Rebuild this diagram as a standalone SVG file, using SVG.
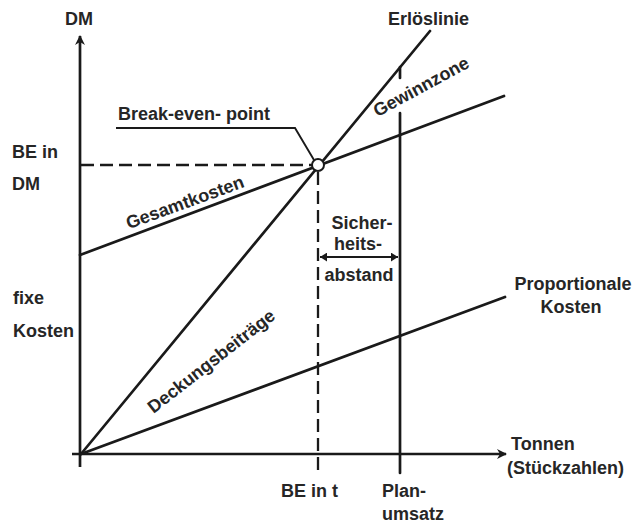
<svg xmlns="http://www.w3.org/2000/svg" width="635" height="523" viewBox="0 0 635 523">
<style>
text{font-family:"Liberation Sans",Arial,sans-serif;font-weight:bold;font-size:18px;fill:#262626}
.ln{stroke:#1a1a1a;stroke-width:2.7;fill:none;stroke-linecap:round}
.ax{stroke:#1a1a1a;stroke-width:2.7;fill:none}
.dash{stroke:#1a1a1a;stroke-width:2.3;fill:none;stroke-dasharray:13 6}
.thin{stroke:#1a1a1a;stroke-width:1.9;fill:none}
</style>
<defs>
<marker id="ah" viewBox="0 0 10 10" refX="9" refY="5" markerWidth="10" markerHeight="10" markerUnits="userSpaceOnUse" orient="auto-start-reverse">
<path d="M0,0 L10,5 L0,10 L3,5 Z" fill="#1a1a1a"/>
</marker>
<marker id="sm" viewBox="0 0 8 10" refX="8" refY="5" markerWidth="7" markerHeight="9" markerUnits="userSpaceOnUse" orient="auto-start-reverse">
<path d="M0,0 L8,5 L0,10 Z" fill="#1a1a1a"/>
</marker>
</defs>
<rect width="635" height="523" fill="#fff"/>
<g id="axes">
<line class="ax" x1="80" y1="467" x2="80" y2="36" marker-end="url(#ah)"/>
<line class="ax" x1="72" y1="454" x2="506" y2="454" marker-end="url(#ah)"/>
<text x="65" y="25">DM</text>
<text x="511" y="450">Tonnen</text>
<text x="507" y="474">(Stückzahlen)</text>
</g>
<g id="connectors">
<line class="ln" x1="81" y1="454" x2="430" y2="31"/>
<line class="ln" x1="80" y1="255" x2="504" y2="96"/>
<line class="ln" x1="81" y1="454" x2="505" y2="297"/>
<line class="dash" x1="81" y1="165" x2="312" y2="165"/>
<line class="dash" x1="318" y1="172" x2="318" y2="476"/>
<line class="ln" x1="400" y1="67" x2="400" y2="78"/>
<line class="ln" x1="400" y1="113" x2="400" y2="473"/>
<polyline class="thin" points="116,128 295,128 314,160"/>
<line class="thin" x1="320" y1="257" x2="398" y2="257" marker-start="url(#sm)" marker-end="url(#sm)"/>
</g>
<g id="break-even">
<circle cx="318" cy="165" r="6" fill="#fff" stroke="#1a1a1a" stroke-width="2"/>
<text x="118" y="120">Break-even- point</text>
</g>
<g id="erloeslinie"><text x="388" y="25">Erlöslinie</text></g>
<g id="gewinnzone"><text x="424" y="92" text-anchor="middle" transform="rotate(-28.5 424 92)">Gewinnzone</text></g>
<g id="gesamtkosten"><text x="187" y="208" text-anchor="middle" transform="rotate(-20 187 208)">Gesamtkosten</text></g>
<g id="deckungsbeitraege"><text x="215" y="366" text-anchor="middle" transform="rotate(-38 215 366)">Deckungsbeiträge</text></g>
<g id="be-dm"><text x="12" y="158">BE in</text><text x="12" y="190">DM</text></g>
<g id="fixe-kosten"><text x="13" y="304">fixe</text><text x="13" y="337">Kosten</text></g>
<g id="proportionale"><text x="573" y="290" text-anchor="middle">Proportionale</text><text x="571" y="313" text-anchor="middle">Kosten</text></g>
<g id="sicherheitsabstand"><text x="362" y="229" text-anchor="middle">Sicher-</text><text x="358" y="250" text-anchor="middle">heits-</text><text x="359" y="281" text-anchor="middle">abstand</text></g>
<g id="be-t"><text x="281" y="497">BE in t</text></g>
<g id="plan"><text x="382" y="497">Plan-</text><text x="382" y="520">umsatz</text></g>
</svg>
